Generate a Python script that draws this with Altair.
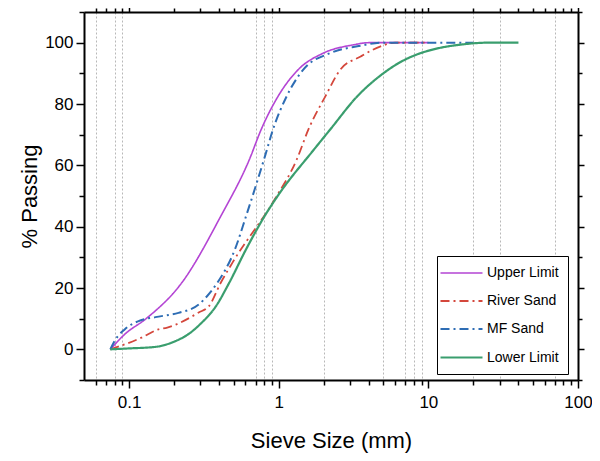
import altair as alt
import pandas as pd

# Series (sieve size in mm, % passing)
upper_size = [0.075, 0.094, 0.13, 0.225, 0.41, 0.637, 0.764, 0.99, 1.35, 1.99, 3.16, 4.0, 10.0]
upper_pass = [0.0, 5.0, 10.0, 21.7, 43.4, 61.9, 71.7, 82.5, 91.2, 96.6, 99.3, 100.0, 100.0]

river_size = [0.075, 0.121, 0.157, 0.18, 0.292, 0.342, 0.41, 0.49, 0.94, 1.32, 1.58, 2.05, 2.58, 3.53, 4.8, 6.0, 10.0]
river_pass = [0.0, 3.8, 6.5, 7.1, 12.0, 14.1, 21.7, 28.2, 48.9, 61.9, 71.7, 82.5, 91.2, 95.5, 98.8, 100.0, 100.0]

mf_size = [0.075, 0.08, 0.0935, 0.12, 0.15, 0.214, 0.292, 0.333, 0.389, 0.51, 0.605, 0.81, 0.916, 1.13, 1.46, 2.21, 3.35, 5.0, 20.0]
mf_pass = [0.0, 2.7, 6.5, 9.5, 10.5, 11.9, 14.6, 17.4, 21.7, 32.6, 43.4, 63.0, 71.7, 82.5, 91.2, 96.6, 98.8, 100.0, 100.0]

lower_size = [0.075, 0.1, 0.15, 0.2, 0.25, 0.3, 0.38, 0.467, 0.605, 0.804, 1.0, 1.71, 2.21, 3.35, 5.0, 6.58, 8.9, 11.0, 16.7, 25.0, 40.0]
lower_pass = [0.0, 0.3, 0.8, 2.5, 5.0, 8.3, 14.0, 21.7, 32.6, 43.4, 50.5, 65.0, 71.7, 82.5, 90.0, 93.8, 96.6, 97.9, 99.4, 100.0, 100.0]

series = ["Upper Limit", "River Sand", "MF Sand", "Lower Limit"]
colors = ["#B445D4", "#D4473C", "#2E6DB4", "#3A9E6E"]
dashes = [[1, 0], [9, 4, 2, 4], [9, 4, 2, 4], [1, 0]]
widths = [1.6, 2.2, 2.2, 1.4]

x_major = [0.1, 1, 10, 100]
x_minor = [0.06, 0.07, 0.08, 0.09, 0.2, 0.3, 0.4, 0.5, 0.6, 0.7, 0.8, 0.9,
           2, 3, 4, 5, 6, 7, 8, 9, 20, 30, 40, 50, 60, 70, 80, 90]
x_grid = [0.06, 0.08, 0.09, 0.7, 0.8, 0.9, 2, 5, 7, 8, 9, 20, 30, 70]
y_major = [0, 20, 40, 60, 80, 100]
y_ticks = [-10, 0, 10, 20, 30, 40, 50, 60, 70, 80, 90, 100, 110]

rows = []
for name, xs, ys in [(series[0], upper_size, upper_pass), (series[1], river_size, river_pass),
                     (series[2], mf_size, mf_pass), (series[3], lower_size, lower_pass)]:
    for i, (a, b) in enumerate(zip(xs, ys)):
        rows.append({"series": name, "size": a, "pass": b, "order": i})
df = pd.DataFrame(rows)

font = "Liberation Sans"
xscale = alt.Scale(type="log", domain=[0.05, 100], nice=False)
yscale = alt.Scale(domain=[-10, 110], nice=False, zero=False)

x_major_test = "indexof(" + str(x_major) + ", datum.value) >= 0"
x_grid_test = "indexof(" + str(x_grid) + ", datum.value) >= 0"
y_major_test = "indexof(" + str(y_major) + ", datum.value) >= 0"

bottom_axis = alt.Axis(
    orient="bottom", values=x_major + x_minor,
    labelExpr="indexof(" + str(x_major) + ", datum.value) >= 0 ? datum.label : ''",
    format="~g",
    tickSize={"condition": {"test": x_major_test, "value": 8}, "value": 5},
    tickColor="black", tickWidth=1.5, domainColor="black", domainWidth=2,
    labelFont=font, labelFontSize=17, labelColor="black", labelPadding=6,
    title="Sieve Size (mm)", titleFont=font, titleFontSize=22, titleFontWeight="normal",
    titleColor="black", titlePadding=20,
    grid=True, gridColor="#b8b8b8", gridDash=[2, 2], gridWidth=1,
    gridOpacity={"condition": {"test": x_grid_test, "value": 1}, "value": 0},
    labelFlush=False, labelOverlap=False,
)
left_axis = alt.Axis(
    orient="left", values=y_ticks,
    labelExpr="indexof(" + str(y_major) + ", datum.value) >= 0 ? datum.label : ''",
    tickSize={"condition": {"test": y_major_test, "value": 8}, "value": 5},
    tickColor="black", tickWidth=1.5, domainColor="black", domainWidth=2,
    labelFont=font, labelFontSize=17, labelColor="black", labelPadding=3,
    title="% Passing", titleFont=font, titleFontSize=22, titleFontWeight="normal",
    titleColor="black", titlePadding=3, grid=False, labelOverlap=False, labelFlush=False,
)
top_axis = alt.Axis(
    orient="top", values=x_major + x_minor, labels=False, title=None, grid=False,
    tickSize={"condition": {"test": x_major_test, "value": 6}, "value": 4},
    tickColor="black", tickWidth=1.5, domainColor="black", domainWidth=2,
)
right_axis = alt.Axis(
    orient="right", values=y_ticks, labels=False, title=None, grid=False,
    tickSize={"condition": {"test": y_major_test, "value": 6}, "value": 4},
    tickColor="black", tickWidth=1.5, domainColor="black", domainWidth=2,
)

legend = alt.Legend(
    title=None, orient="none", legendX=353, legendY=244,
    symbolType="M-3,0H3", symbolSize=196, symbolStrokeWidth=2, symbolOffset=7,
    labelFont=font, labelFontSize=14, labelColor="black", labelOffset=17,
    strokeColor="black", fillColor="white", padding=9, rowPadding=13,
)

base = alt.Chart(df)
lines = base.mark_line(interpolate="monotone").encode(
    x=alt.X("size:Q", scale=xscale, axis=bottom_axis),
    y=alt.Y("pass:Q", scale=yscale, axis=left_axis),
    color=alt.Color("series:N", scale=alt.Scale(domain=series, range=colors), legend=legend),
    strokeDash=alt.StrokeDash("series:N", scale=alt.Scale(domain=series, range=dashes), legend=legend),
    strokeWidth=alt.StrokeWidth("series:N", scale=alt.Scale(domain=series, range=widths), legend=legend),
    order="order:Q",
)
mirror = base.mark_line(opacity=0).encode(
    x=alt.X("size:Q", scale=xscale, axis=top_axis),
    y=alt.Y("pass:Q", scale=yscale, axis=right_axis),
    detail="series:N",
)

chart = alt.layer(lines, mirror).resolve_axis(x="independent", y="independent").properties(
    width=494, height=368,
    autosize=alt.AutoSizeParams(type="none"),
    padding={"left": 76, "top": 4, "right": 14, "bottom": 73},
).configure_view(stroke="black", strokeWidth=2).configure(background="white")

chart.save("out.html", embed_options={"renderer": "svg", "actions": False})
